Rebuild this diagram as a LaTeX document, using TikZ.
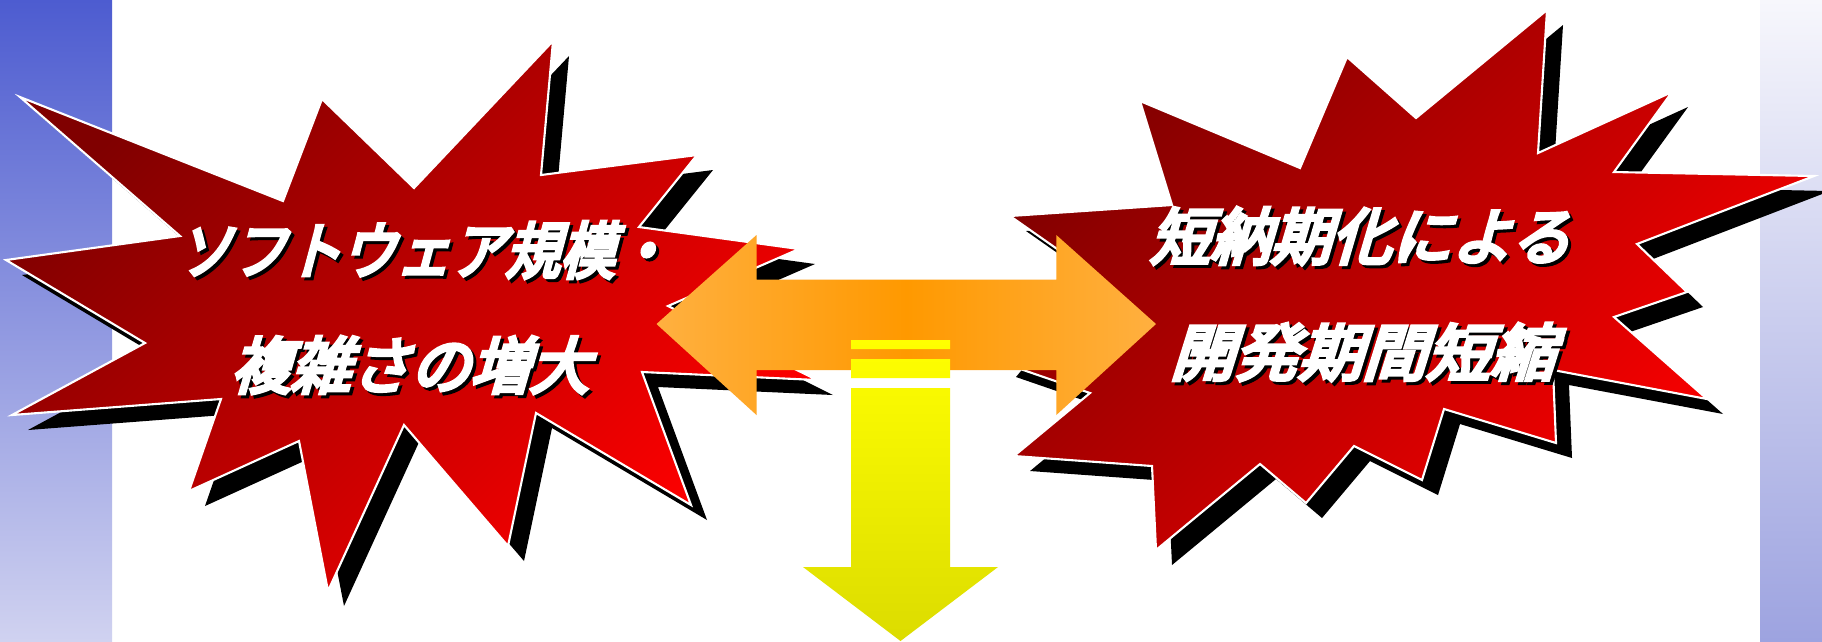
\documentclass[tikz,border=0pt]{standalone}
\usepackage{graphicx}
\usepackage{fontspec}
\newfontfamily\jp{Noto Sans CJK JP}[FakeSlant=0.3,FakeBold=6.5]
\definecolor{bandA}{HTML}{4D5CD0}
\definecolor{bandB}{HTML}{D0D2F0}
\definecolor{bandC}{HTML}{F7F7FC}
\definecolor{bandD}{HTML}{9DA3E0}
\definecolor{redA}{HTML}{800000}
\definecolor{redB}{HTML}{FF0000}
\definecolor{orA}{HTML}{FFB040}
\definecolor{orB}{HTML}{FF9900}
\definecolor{yeA}{HTML}{FFFF00}
\definecolor{yeB}{HTML}{DCDC00}
\tikzset{
  jtext/.style={font=\jp\fontsize{17.5}{20}\selectfont, text=white, inner sep=0pt},
  jshadow/.style={jtext, text=black},
  starfill/.style={draw=white, line width=0.6pt, line join=miter, top color=redA, bottom color=redB, shading angle=45},
  starshadow/.style={fill=black, shift={(16,15)}},
}
\newcommand{\jptext}[5]{%
  \node[jshadow] (#1s) at (#2+3,#3+3) {\scalebox{#4}[1]{#5}};
  \node[jtext] (#1) at (#2,#3) {\scalebox{#4}[1]{#5}};}
\def\starL{(20,97) -- (283,201) -- (322,99) -- (414,188) -- (553,41) -- (541,175) -- (697,155) -- (639,227) -- (799,249) -- (668,306) -- (817,380) -- (642,372) -- (691,505) -- (536,413) -- (508,546) -- (404,425) -- (328,591) -- (299,441) -- (189,491) -- (221,399) -- (12,415) -- (145,343) -- (6,260) -- (180,236) -- cycle}
\def\starR{(1140,101) -- (1300,168) -- (1347,57) -- (1416,118) -- (1547,10) -- (1538,153) -- (1672,92) -- (1614,172) -- (1814,176) -- (1637,244) -- (1687,292) -- (1614,317) -- (1707,399) -- (1553,370) -- (1556,443) -- (1444,409) -- (1422,480) -- (1354,446) -- (1306,503) -- (1260,464) -- (1156,550) -- (1152,466) -- (1014,456) -- (1090,393) -- (1000,362) -- (1080,265) -- (1010,216) -- (1172,205) -- cycle}
\begin{document}
\begin{tikzpicture}[x=0.01cm,y=-0.01cm]
\useasboundingbox (0,0) rectangle (1822,641);
\fill[white] (0,0) rectangle (1822,641);
% side bands
\shade[top color=bandA, bottom color=bandB] (0,0) rectangle (112,641);
\shade[top color=bandC, bottom color=bandD] (1760,0) rectangle (1822,641);
% stars
\fill[starshadow] \starL;
\shadedraw[starfill] \starL;
\fill[starshadow] \starR;
\shadedraw[starfill] \starR;
% texts
\jptext{l1}{423}{250}{0.89}{ソフトウェア規模・}
\jptext{l2}{410}{365}{0.97}{複雑さの増大}
\jptext{r1}{1360}{236}{0.98}{短納期化による}
\jptext{r2}{1362}{352}{1.04}{開発期間短縮}
% orange double arrow
\shade[left color=orA, right color=orA, middle color=orB]
  (656.5,324) -- (756.5,235) -- (756.5,279.5) -- (1056.3,279.5) -- (1056.3,235) -- (1156,324)
  -- (1056.3,415) -- (1056.3,370) -- (756.5,370) -- (756.5,415) -- cycle;
% yellow down arrow with stripes
\shade[top color=yeA, bottom color=yeB]
  (851,340) rectangle (950,349)
  (851,359) rectangle (950,378)
  (851,388) -- (950,388) -- (950,567) -- (998,567) -- (900.5,641) -- (803,567) -- (851,567) -- cycle;
\end{tikzpicture}
\end{document}
